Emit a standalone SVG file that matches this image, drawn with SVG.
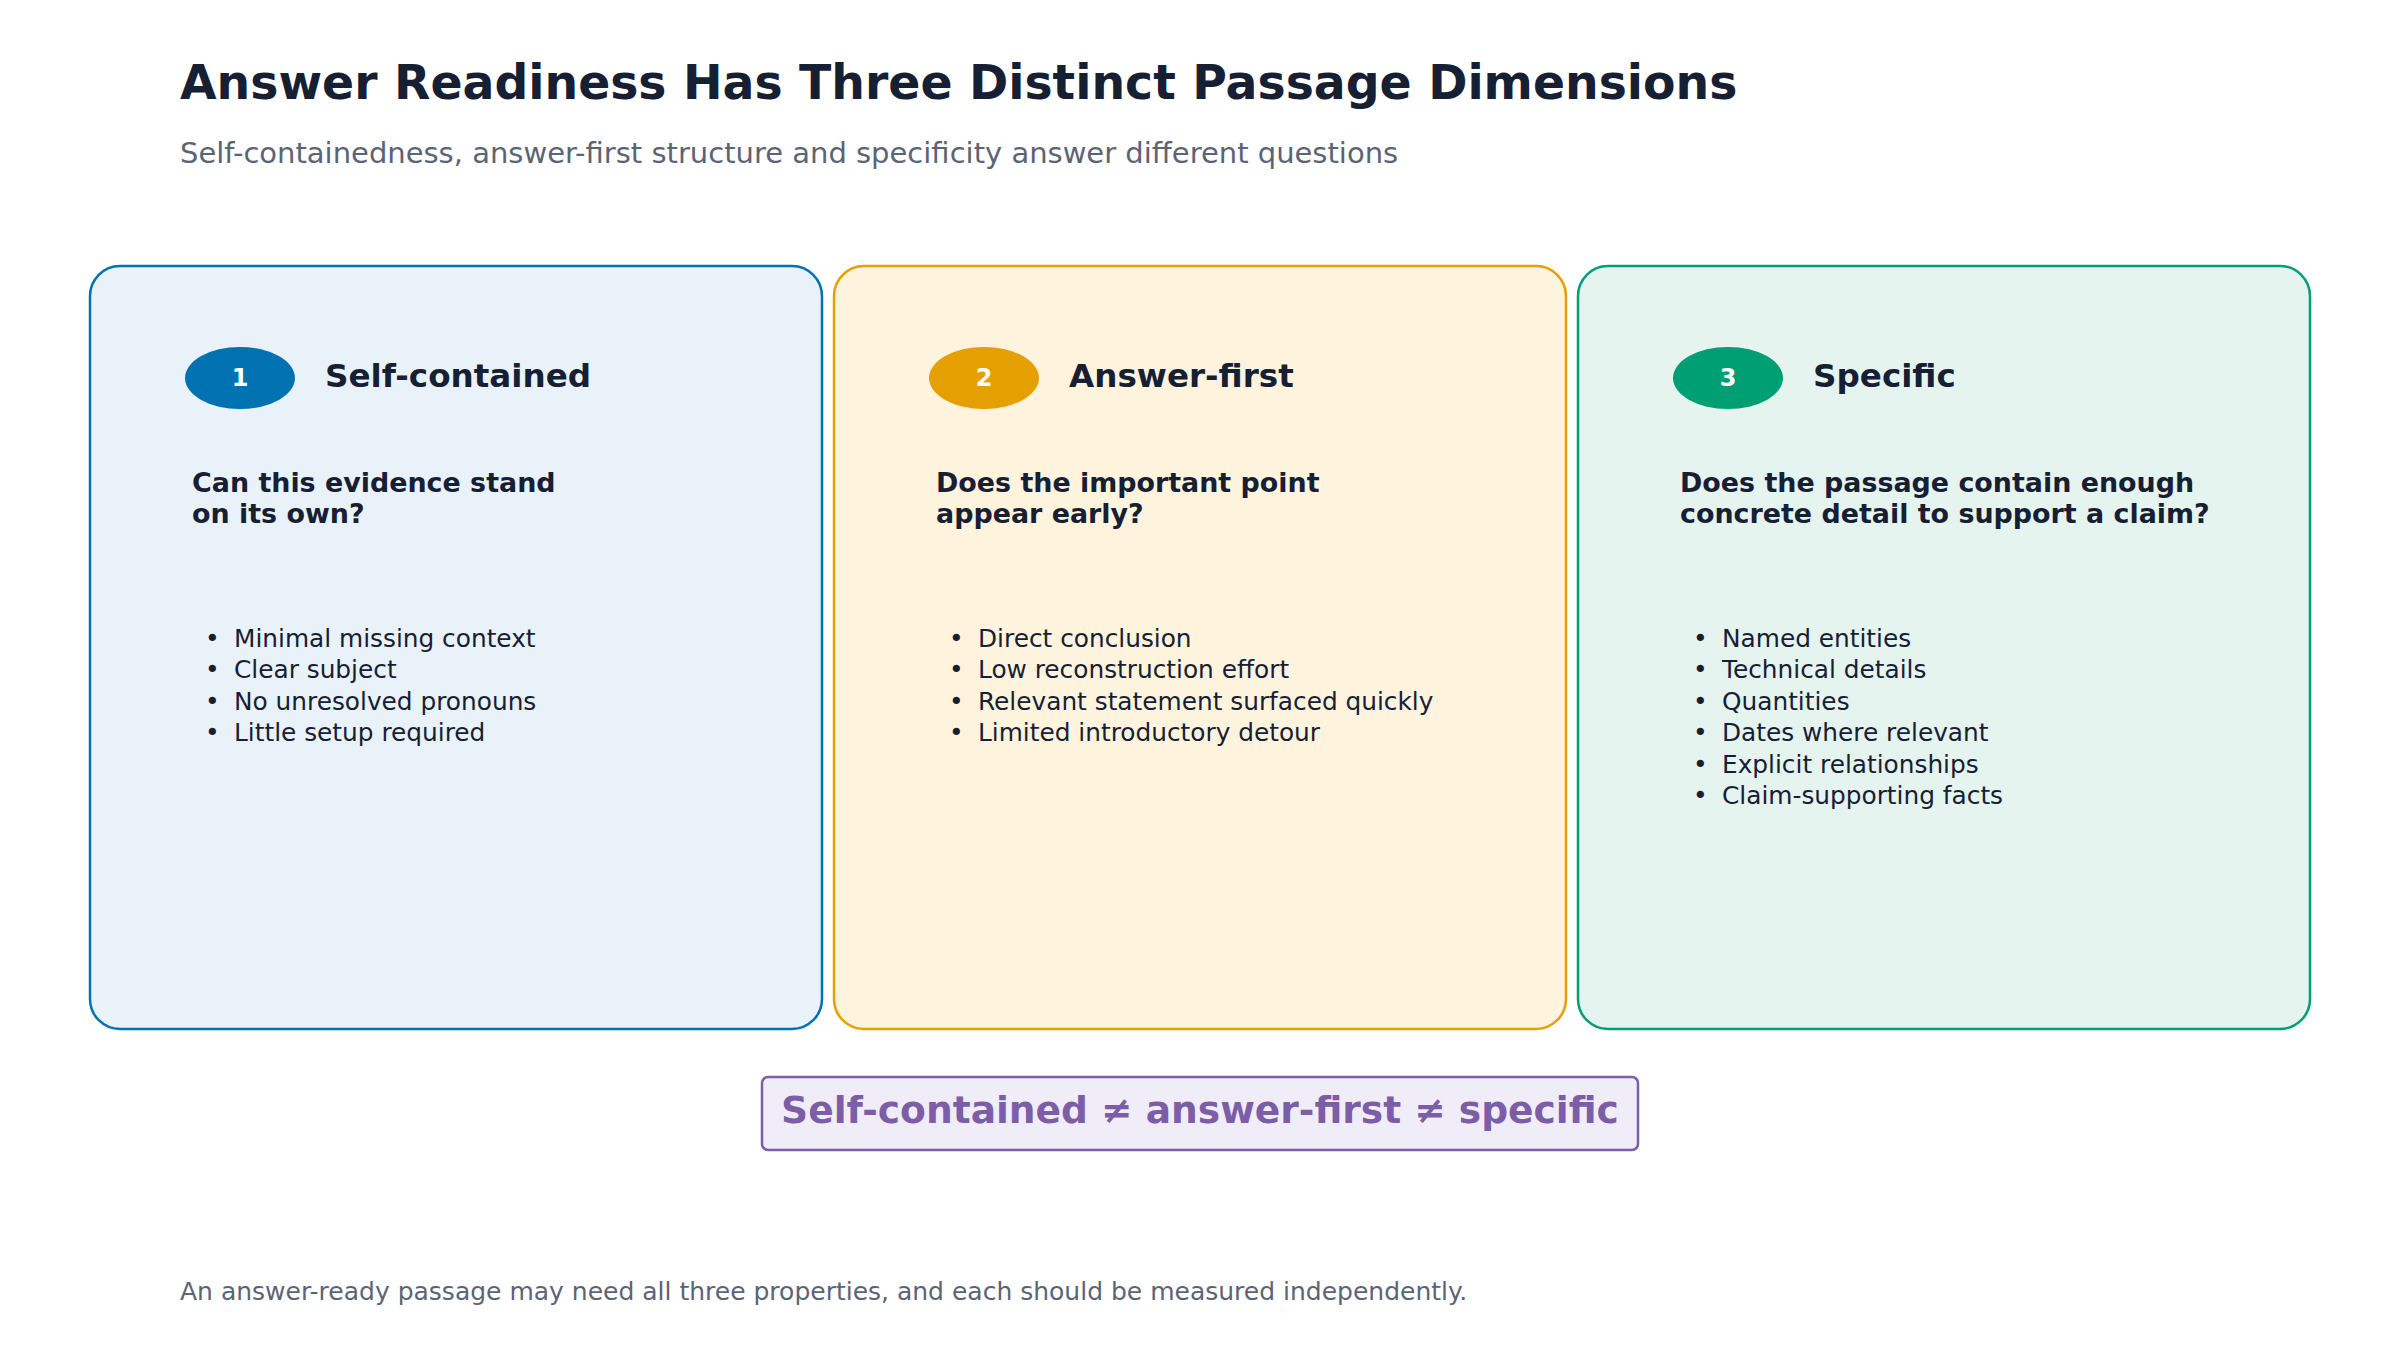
<svg xmlns="http://www.w3.org/2000/svg" width="2400" height="1350" viewBox="0 0 2400 1350">
<style>
text{font-family:"DejaVu Sans","Liberation Sans",sans-serif;}
.title{font-size:47.3px;font-weight:bold;fill:#172033;}
.sub{font-size:29px;fill:#5b6475;}
.card{stroke-width:2.5;}
.num{font-size:24px;font-weight:bold;fill:#ffffff;text-anchor:middle;}
.head{font-size:32.6px;font-weight:bold;fill:#172033;}
.q{font-size:26.9px;font-weight:bold;fill:#172033;}
.item{font-size:24.8px;fill:#172033;}
.foot{font-size:25px;fill:#5b6475;}
</style>
<rect width="2400" height="1350" fill="#ffffff"/>
<text class="title" x="180" y="99">Answer Readiness Has Three Distinct Passage Dimensions</text>
<text class="sub" x="180" y="163">Self-containedness, answer-first structure and specificity answer different questions</text>
<g id="connectors"></g>
<g id="card1">
<rect class="card" x="90" y="266" width="732" height="763" rx="30" fill="#e9f2f9" stroke="#0072b2"/>
<ellipse cx="240" cy="378" rx="55" ry="31" fill="#0072b2"/>
<text class="num" x="240" y="386">1</text>
<text class="head" x="325" y="387">Self-contained</text>
<text class="q" x="192" y="492">Can this evidence stand</text>
<text class="q" x="192" y="523">on its own?</text>
<text class="item" y="647"><tspan x="205">•</tspan><tspan x="234">Minimal missing context</tspan></text>
<text class="item" y="678"><tspan x="205">•</tspan><tspan x="234">Clear subject</tspan></text>
<text class="item" y="710"><tspan x="205">•</tspan><tspan x="234">No unresolved pronouns</tspan></text>
<text class="item" y="741"><tspan x="205">•</tspan><tspan x="234">Little setup required</tspan></text>
</g>
<g id="card2">
<rect class="card" x="834" y="266" width="732" height="763" rx="30" fill="#fef4de" stroke="#e69f00"/>
<ellipse cx="984" cy="378" rx="55" ry="31" fill="#e69f00"/>
<text class="num" x="984" y="386">2</text>
<text class="head" x="1069" y="387">Answer-first</text>
<text class="q" x="936" y="492">Does the important point</text>
<text class="q" x="936" y="523">appear early?</text>
<text class="item" y="647"><tspan x="949">•</tspan><tspan x="978">Direct conclusion</tspan></text>
<text class="item" y="678"><tspan x="949">•</tspan><tspan x="978">Low reconstruction effort</tspan></text>
<text class="item" y="710"><tspan x="949">•</tspan><tspan x="978">Relevant statement surfaced quickly</tspan></text>
<text class="item" y="741"><tspan x="949">•</tspan><tspan x="978">Limited introductory detour</tspan></text>
</g>
<g id="card3">
<rect class="card" x="1578" y="266" width="732" height="763" rx="30" fill="#e5f4ef" stroke="#009e73"/>
<ellipse cx="1728" cy="378" rx="55" ry="31" fill="#009e73"/>
<text class="num" x="1728" y="386">3</text>
<text class="head" x="1813" y="387">Specific</text>
<text class="q" x="1680" y="492">Does the passage contain enough</text>
<text class="q" x="1680" y="523">concrete detail to support a claim?</text>
<text class="item" y="647"><tspan x="1693">•</tspan><tspan x="1722">Named entities</tspan></text>
<text class="item" y="678"><tspan x="1693">•</tspan><tspan x="1722">Technical details</tspan></text>
<text class="item" y="710"><tspan x="1693">•</tspan><tspan x="1722">Quantities</tspan></text>
<text class="item" y="741"><tspan x="1693">•</tspan><tspan x="1722">Dates where relevant</tspan></text>
<text class="item" y="773"><tspan x="1693">•</tspan><tspan x="1722">Explicit relationships</tspan></text>
<text class="item" y="804"><tspan x="1693">•</tspan><tspan x="1722">Claim-supporting facts</tspan></text>
</g>
<g id="callout">
<rect x="762" y="1077" width="876" height="73" rx="6" fill="#f1edf8" stroke="#7b5ea7" stroke-width="2.5"/>
<text x="1200" y="1123" text-anchor="middle" font-size="37.6" font-weight="bold" fill="#7b5ea7">Self-contained ≠ answer-first ≠ specific</text>
</g>
<text class="foot" x="180" y="1300">An answer-ready passage may need all three properties, and each should be measured independently.</text>
</svg>
